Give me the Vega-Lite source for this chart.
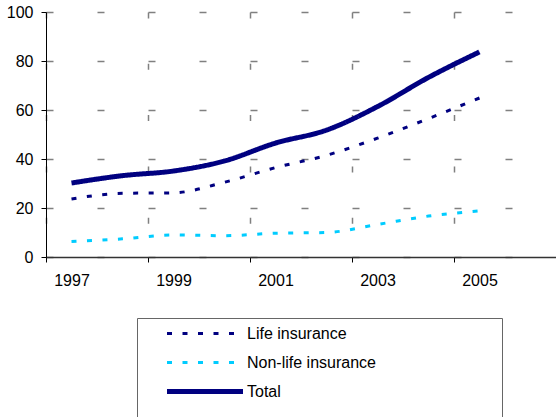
{
  "$schema": "https://vega.github.io/schema/vega-lite/v6.json",
  "width": 510,
  "height": 245,
  "autosize": {"type": "none"},
  "padding": {"left": 46, "top": 12, "right": 0, "bottom": 160},
  "background": "white",
  "config": {
    "view": {"stroke": null},
    "font": "Liberation Sans",
    "axis": {
      "labelFont": "Liberation Sans",
      "labelFontSize": 16,
      "labelColor": "black",
      "tickColor": "black",
      "domainColor": "black",
      "tickSize": 5,
      "title": null
    }
  },
  "data": {
    "values": [
      {"year": 1997, "series": "Life insurance", "value": 23.7},
      {"year": 1998, "series": "Life insurance", "value": 26.0},
      {"year": 1999, "series": "Life insurance", "value": 26.2},
      {"year": 2000, "series": "Life insurance", "value": 30.5},
      {"year": 2001, "series": "Life insurance", "value": 36.5},
      {"year": 2002, "series": "Life insurance", "value": 41.5},
      {"year": 2003, "series": "Life insurance", "value": 48.5},
      {"year": 2004, "series": "Life insurance", "value": 56.5},
      {"year": 2005, "series": "Life insurance", "value": 64.9},
      {"year": 1997, "series": "Non-life insurance", "value": 6.3},
      {"year": 1998, "series": "Non-life insurance", "value": 7.4},
      {"year": 1999, "series": "Non-life insurance", "value": 9.0},
      {"year": 2000, "series": "Non-life insurance", "value": 8.7},
      {"year": 2001, "series": "Non-life insurance", "value": 9.7},
      {"year": 2002, "series": "Non-life insurance", "value": 10.0},
      {"year": 2003, "series": "Non-life insurance", "value": 13.3},
      {"year": 2004, "series": "Non-life insurance", "value": 16.7},
      {"year": 2005, "series": "Non-life insurance", "value": 18.8},
      {"year": 1997, "series": "Total", "value": 30.2},
      {"year": 1998, "series": "Total", "value": 33.2},
      {"year": 1999, "series": "Total", "value": 35.1},
      {"year": 2000, "series": "Total", "value": 39.2},
      {"year": 2001, "series": "Total", "value": 46.5},
      {"year": 2002, "series": "Total", "value": 51.8},
      {"year": 2003, "series": "Total", "value": 61.4},
      {"year": 2004, "series": "Total", "value": 73.3},
      {"year": 2005, "series": "Total", "value": 83.7}
    ]
  },
  "mark": {"type": "line", "interpolate": "monotone", "strokeCap": "butt"},
  "encoding": {
    "x": {
      "field": "year",
      "type": "ordinal",
      "scale": {"type": "point", "padding": 0.5, "domain": [1997, 1998, 1999, 2000, 2001, 2002, 2003, 2004, 2005, 2006]},
      "axis": {
        "values": [1997, 1999, 2001, 2003, 2005],
        "labelAngle": 0,
        "tickOffset": -25.5,
        "labelOffset": 25.5,
        "labelPadding": 10,
        "domainColor": "#333333",
        "domainWidth": 1.5,
        "grid": true,
        "gridColor": "#808080",
        "gridWidth": 1.5,
        "gridDash": [6, 45.3],
        "gridDashOffset": 0
      }
    },
    "y": {
      "field": "value",
      "type": "quantitative",
      "scale": {"domain": [0, 100], "nice": false},
      "axis": {
        "values": [0, 20, 40, 60, 80, 100],
        "labelPadding": 8,
        "grid": true,
        "gridColor": "#808080",
        "gridWidth": 1.5,
        "gridDash": [7, 44]
      }
    },
    "color": {
      "field": "series",
      "type": "nominal",
      "scale": {"domain": ["Life insurance", "Non-life insurance", "Total"], "range": ["#000080", "#00CCFF", "#000080"]},
      "legend": {
        "orient": "none",
        "legendX": 91,
        "legendY": 306,
        "direction": "vertical",
        "symbolType": "stroke",
        "symbolSize": 5776,
        "clipHeight": 29,
        "rowPadding": 0,
        "padding": 1,
        "symbolOffset": 59,
        "labelOffset": 34,
        "labelFont": "Liberation Sans",
        "labelFontSize": 16,
        "labelColor": "black",
        "labelLimit": 400,
        "strokeColor": "#666666",
        "fillColor": "white",
        "title": "\u200b\u00a0\u00a0\u00a0\u00a0\u00a0\u00a0\u00a0\u00a0\u00a0\u00a0\u00a0\u00a0\u00a0\u00a0\u00a0\u00a0\u00a0\u00a0\u00a0\u00a0\u00a0\u00a0\u00a0\u00a0\u00a0\u00a0\u00a0\u00a0\u00a0\u00a0\u00a0\u00a0\u00a0\u00a0\u00a0\u00a0\u00a0\u00a0\u00a0\u00a0\u00a0\u00a0\u00a0\u00a0\u00a0\u00a0\u00a0\u00a0\u00a0\u00a0\u00a0\u00a0\u00a0\u00a0\u00a0\u00a0\u00a0\u00a0\u00a0\u00a0\u00a0\u00a0\u00a0\u00a0\u00a0\u00a0\u00a0\u00a0\u00a0\u00a0\u00a0\u00a0\u00a0\u00a0\u00a0\u00a0\u00a0\u00a0\u00a0\u00a0\u00a0\u00a0\u00a0\u00a0\u00a0\u00a0\u00a0\u00a0\u00a0\u00a0\u00a0\u00a0\u00a0\u00a0\u00a0\u00a0\u00a0\u00a0\u00a0\u00a0\u00a0\u00a0\u00a0\u00a0\u00a0\u00a0\u00a0\u00a0\u00a0\u00a0\u00a0\u00a0\u00a0\u00a0\u00a0\u00a0\u00a0\u00a0\u00a0\u00a0\u00a0\u00a0\u00a0\u00a0\u00a0\u00a0\u00a0\u00a0\u00a0\u00a0\u00a0\u00a0\u00a0\u00a0\u00a0\u00a0\u00a0\u00a0\u00a0\u00a0\u00a0\u00a0\u00a0\u00a0\u00a0\u200b",
        "titleOrient": "bottom",
        "titleLimit": 1000,
        "titleFont": "Liberation Sans",
        "titleFontSize": 9,
        "titlePadding": 2,
        "encode": {
          "symbols": {"update": {"strokeWidth": {"signal": "datum.value === 'Total' ? 5 : 3"}}}
        }
      }
    },
    "strokeDash": {
      "field": "series",
      "type": "nominal",
      "scale": {"domain": ["Life insurance", "Non-life insurance", "Total"], "range": [[5, 10.5], [5, 10.5], [1, 0]]}
    },
    "strokeWidth": {"condition": {"test": "datum.series === 'Total'", "value": 5}, "value": 3}
  }
}
